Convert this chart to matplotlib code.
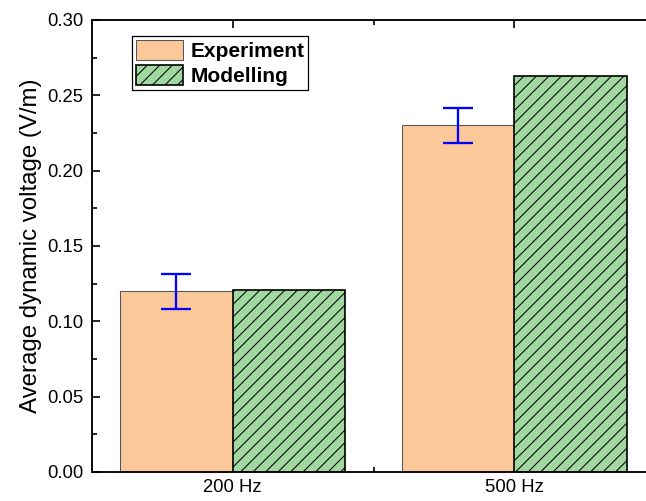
import numpy as np
import matplotlib.pyplot as plt
from matplotlib.ticker import MultipleLocator, FixedLocator

# data
categories = ['200 Hz', '500 Hz']
experiment = [0.120, 0.230]
experiment_err = [0.0115, 0.0115]
modelling = [0.121, 0.263]

plt.rcParams['font.family'] = ['Liberation Sans', 'DejaVu Sans']
plt.rcParams['hatch.linewidth'] = 0.5

fig = plt.figure(figsize=(646 / 150, 501 / 150), dpi=150)
ax = fig.add_axes([92 / 646, 29 / 501, 563 / 646, 452 / 501])

x = np.arange(len(categories))
w = 0.4

ax.bar(x - w / 2, experiment, w, color='#fbc899', edgecolor='#555555',
       linewidth=0.5, label='Experiment', zorder=2)
ax.bar(x + w / 2, modelling, w, color='#a0d8a0', edgecolor='black',
       linewidth=0.8, hatch='////', label='Modelling', zorder=2)
ax.errorbar(x - w / 2, experiment, yerr=experiment_err, fmt='none',
            ecolor='#0000ff', elinewidth=1.1, capsize=7, capthick=1.1, zorder=3)

ax.set_xlim(-0.5, 1.5)
ax.set_ylim(0, 0.30)
ax.set_xticks(x)
ax.set_xticklabels(categories)
ax.xaxis.set_minor_locator(FixedLocator([0.5]))
ax.yaxis.set_major_locator(MultipleLocator(0.05))
ax.yaxis.set_minor_locator(MultipleLocator(0.025))
ax.yaxis.set_major_formatter(plt.FormatStrFormatter('%.2f'))

ax.tick_params(which='both', direction='in', top=True, right=True, width=0.8,
               labelsize=8.9)
ax.tick_params(which='major', length=4)
ax.tick_params(which='minor', length=2.5)
ax.tick_params(axis='y', pad=4.3)
ax.tick_params(axis='x', pad=3.5)
for s in ax.spines.values():
    s.set_linewidth(0.9)

ax.set_ylabel('Average dynamic voltage (V/m)', fontsize=11.5, labelpad=2.5)

leg = ax.legend(loc='upper left', bbox_to_anchor=(0.071, 0.965),
                borderaxespad=0, prop={'weight': 'bold', 'size': 10},
                handlelength=2.25, handleheight=1.1, handletextpad=0.35,
                labelspacing=0.2, borderpad=0.2, fancybox=False,
                framealpha=1, edgecolor='black')
leg.get_frame().set_linewidth(0.6)

fig.savefig('out.png', dpi=150)
